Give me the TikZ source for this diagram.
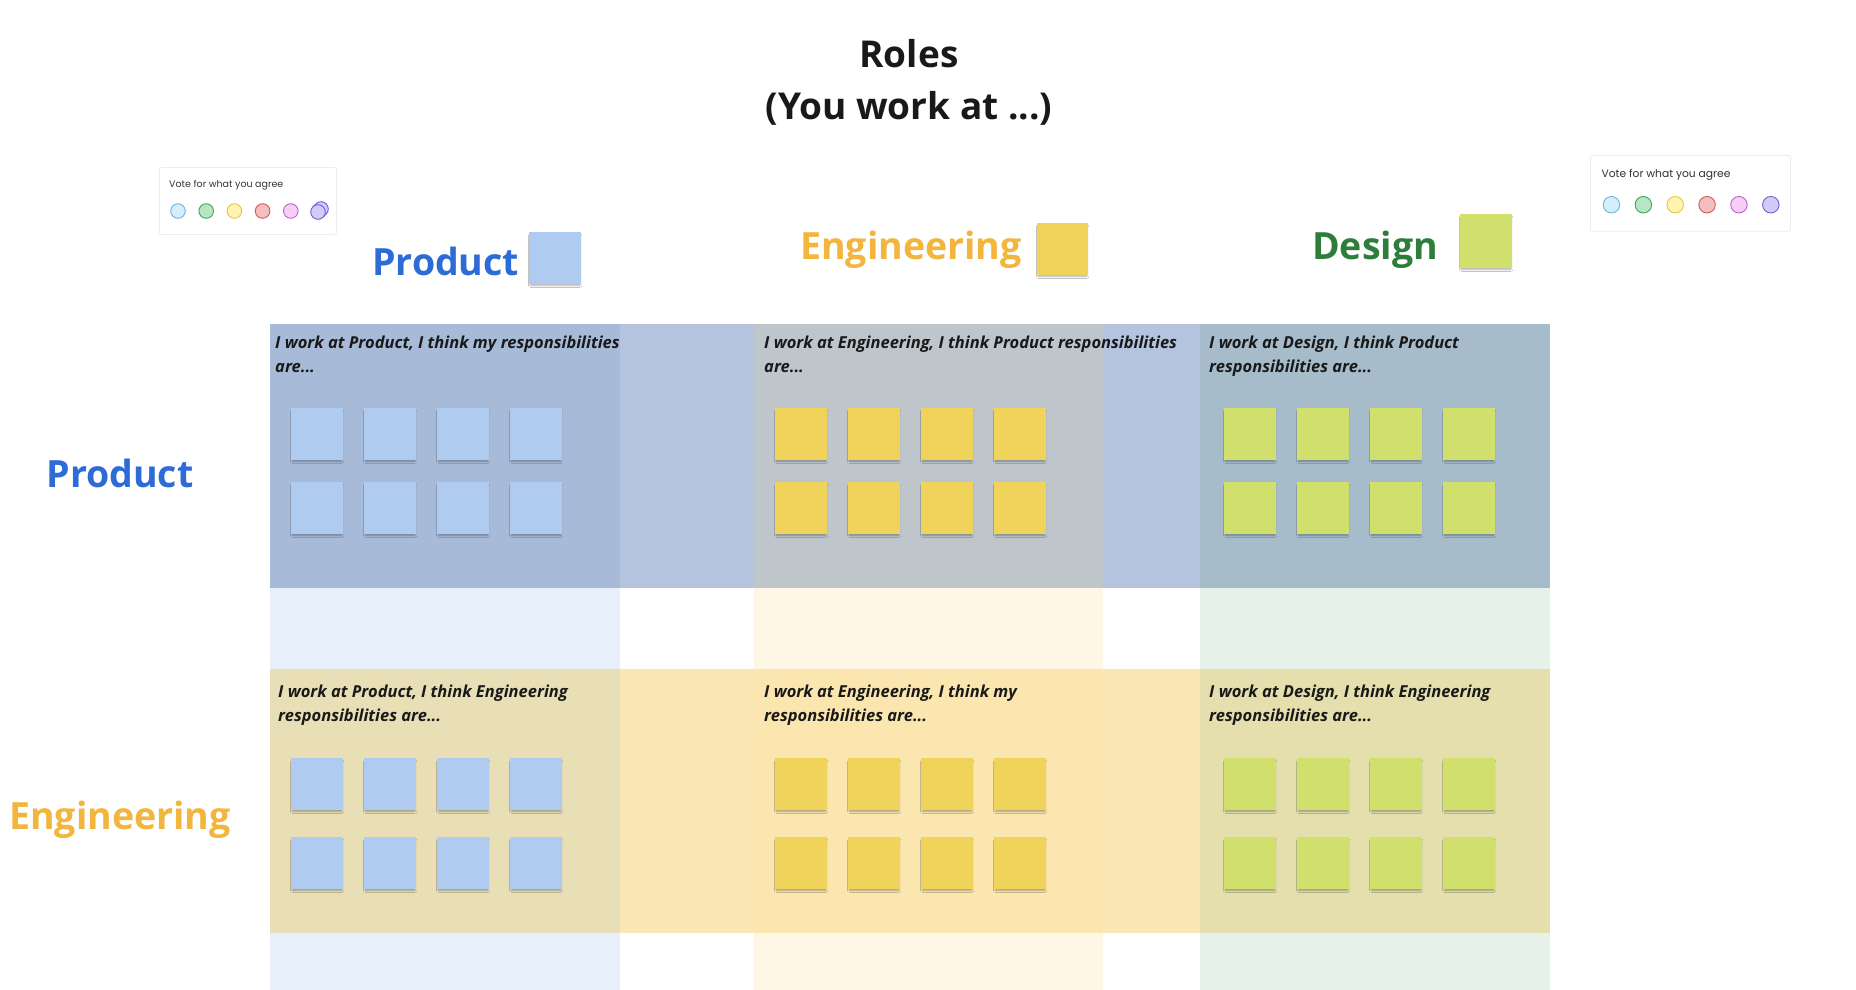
\documentclass[tikz,border=0pt]{standalone}
\usepackage{fontspec}
\setmainfont{Open Sans}
\newfontfamily\votefont{Poppins}
\usetikzlibrary{shadows.blur}

\definecolor{prodblue}{HTML}{2D6BD7}
\definecolor{engorange}{HTML}{F2B53D}
\definecolor{desgreen}{HTML}{2F7D3B}
\definecolor{noteblue}{HTML}{AFCBF0}
\definecolor{noteyellow}{HTML}{EFD35B}
\definecolor{notegreen}{HTML}{D1E06D}
\definecolor{colP}{HTML}{E6EFFA}
\definecolor{colE}{HTML}{FEF7E6}
\definecolor{colD}{HTML}{E6F1EA}
\definecolor{rowP}{HTML}{B4C3DE}
\definecolor{cellPP}{HTML}{A7BBD9}
\definecolor{cellPE}{HTML}{BEC5CB}
\definecolor{cellPD}{HTML}{A7BCCB}
\definecolor{rowE}{HTML}{FAE6B5}
\definecolor{cellEP}{HTML}{E9DFB6}
\definecolor{cellEE}{HTML}{FBE6B0}
\definecolor{cellED}{HTML}{E4DFAC}

\tikzset{
  note/.style={minimum width=52pt, minimum height=52pt, inner sep=0pt, anchor=north west,
    blur shadow={shadow xshift=0pt, shadow yshift=-2.5pt, shadow opacity=35, shadow scale=0.95}},
  title/.style={font=\fontsize{37}{44}\selectfont\bfseries, text=black!90, anchor=base, inner sep=0pt},
  hdr/.style={font=\fontsize{37.5}{46}\selectfont\bfseries, inner sep=0pt},
  celltxt/.style={font=\fontsize{16.5}{23.5}\selectfont\bfseries\itshape, text=black!90,
    anchor=north west, align=left, inner sep=0pt},
  votecard/.style={anchor=north west, minimum width=177pt, minimum height=67pt, inner sep=0pt,
    fill=white, draw=black!7, line width=0.8pt, rounded corners=1.5pt},
  votetxt/.style={font=\votefont\fontsize{9.5}{11}\selectfont, text=black!80, anchor=base west, inner sep=0pt}
}

\begin{document}
\begin{tikzpicture}[x=1pt, y=-1pt]
\useasboundingbox (0,0) rectangle (1856,990);
\fill[white] (0,0) rectangle (1856,990);

% title
\node[title] (title1) at (909,67) {Roles};
\node[title] (title2) at (909,119) {(You work at ...)};

% vote cards
\foreach \vx/\vy/\vs/\vn in {159/167/1/l, 1590/155/1.13/r}{
  \begin{scope}[shift={(\vx,\vy)}, scale=\vs, transform shape]
    \node[votecard] (card-\vn) at (0,0) {};
    \node[votetxt] (vtxt-\vn) at (10,20) {Vote for what you agree};
    \foreach \k/\f/\d in {0/D4EEFB/6DB5DC, 1/B7E6C3/43A35C, 2/FFF3B0/E3C640,
                          3/F5BEBE/D05A5A, 4/F8CEF4/B964C8, 5/D0CCF7/6C60DA}{
      \definecolor{vf}{HTML}{\f}\definecolor{vd}{HTML}{\d}
      \draw[vd, fill=vf, line width=0.9pt] (19+28.2*\k,44) circle (7.3);
    }
  \end{scope}
}
\definecolor{vf}{HTML}{D0CCF7}\definecolor{vd}{HTML}{6C60DA}
\draw[vd, fill=vf, line width=0.9pt] (321,209) circle (7.3);
\draw[vd, fill=vf, line width=0.9pt] (318,212) circle (7.3);

% column headers
\node[hdr, text=prodblue, anchor=base west] (h-prod) at (372,275) {Product};
\node[note, fill=noteblue] (hn-prod) at (529,232) {};
\node[hdr, text=engorange, anchor=base west] (h-eng) at (800,259) {Engineering};
\node[note, fill=noteyellow, minimum width=51pt] (hn-eng) at (1037,223) {};
\node[hdr, text=desgreen, anchor=base west] (h-des) at (1312,259) {Design};
\node[note, fill=notegreen, minimum height=54pt] (hn-des) at (1460,214) {};

% row headers
\node[hdr, text=prodblue, anchor=base] (r-prod) at (120,487) {Product};
\node[hdr, text=engorange, anchor=base] (r-eng) at (120,829) {Engineering};

% column bands
\fill[colP] (270,324) rectangle (620,990);
\fill[colE] (754,324) rectangle (1103,990);
\fill[colD] (1200,324) rectangle (1550,990);

% product row
\fill[rowP] (270,324) rectangle (1550,588);
\fill[cellPP] (270,324) rectangle (620,588);
\fill[cellPE] (754,324) rectangle (1103,588);
\fill[cellPD] (1200,324) rectangle (1550,588);

% engineering row
\fill[rowE] (270,669) rectangle (1550,933);
\fill[cellEP] (270,669) rectangle (620,933);
\fill[cellEE] (754,669) rectangle (1103,933);
\fill[cellED] (1200,669) rectangle (1550,933);

% cell prompts
\node[celltxt] (t-pp) at (275,336) {I work at Product, I think my responsibilities\\are...};
\node[celltxt] (t-pe) at (764,336) {I work at Engineering, I think Product responsibilities\\are...};
\node[celltxt] (t-pd) at (1209,336) {I work at Design, I think Product\\responsibilities are...};
\node[celltxt] (t-ep) at (278,685) {I work at Product, I think Engineering\\responsibilities are...};
\node[celltxt] (t-ee) at (764,685) {I work at Engineering, I think my\\responsibilities are...};
\node[celltxt] (t-ed) at (1209,685) {I work at Design, I think Engineering\\responsibilities are...};

% sticky notes
\foreach \col/\cx/\clr in {p/291/noteblue, e/775/noteyellow, d/1224/notegreen}
  \foreach \row/\ry/\dy in {p/408/74, e/758/79}
    \foreach \i in {0,...,3}
      \foreach \j in {0,1}
        \node[note, fill=\clr] (n-\row\col-\i-\j) at (\cx+73*\i, \ry+\dy*\j) {};
\end{tikzpicture}
\end{document}
